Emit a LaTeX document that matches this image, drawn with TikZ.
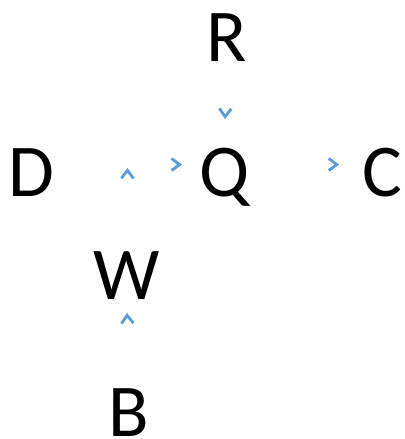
\documentclass[tikz,border=0pt]{standalone}
\usepackage{fontspec}
\setmainfont{Carlito}
\usetikzlibrary{arrows.meta}
\definecolor{arrowblue}{RGB}{91,155,213}
\tikzset{
  letter/.style={inner sep=0pt,outer sep=0pt,text height=1.925cm,text depth=0.35cm,font=\fontsize{53}{60}\selectfont},
  flow/.style={draw=white,line width=0.5pt,-{Straight Barb[length=0.2cm,width=0.3cm,line width=2pt,color=arrowblue]}}
}
\begin{document}
\begin{tikzpicture}[x=0.025cm,y=-0.025cm]
\useasboundingbox (0,0) rectangle (404,439);
% Top row
\node[letter] (R) at (226.5,29.5) {R};
% Middle row
\node[letter] (D) at (31.5,164.5) {D};
\node[letter] (Q) at (225,164.5) {Q};
\node[letter] (C) at (382,164.5) {C};
% Bottom column
\node[letter] (W) at (127,267.5) {W};
\node[letter,text depth=0cm] (B) at (129,397.5) {B};
\coordinate (wtip) at (127.5,168);
% Arrows into Q
\draw[flow] (R.south) -- (Q.north);
\draw[flow,shorten >=0.45cm] (D.east) -- (Q.west);
% Arrow out of Q
\draw[flow,shorten >=0.575cm] (Q.east) -- (C.west);
% Arrows on the W column
\draw[flow] (B.north) -- (W.south);
\draw[flow] (W.north) -- (wtip);
\end{tikzpicture}
\end{document}
